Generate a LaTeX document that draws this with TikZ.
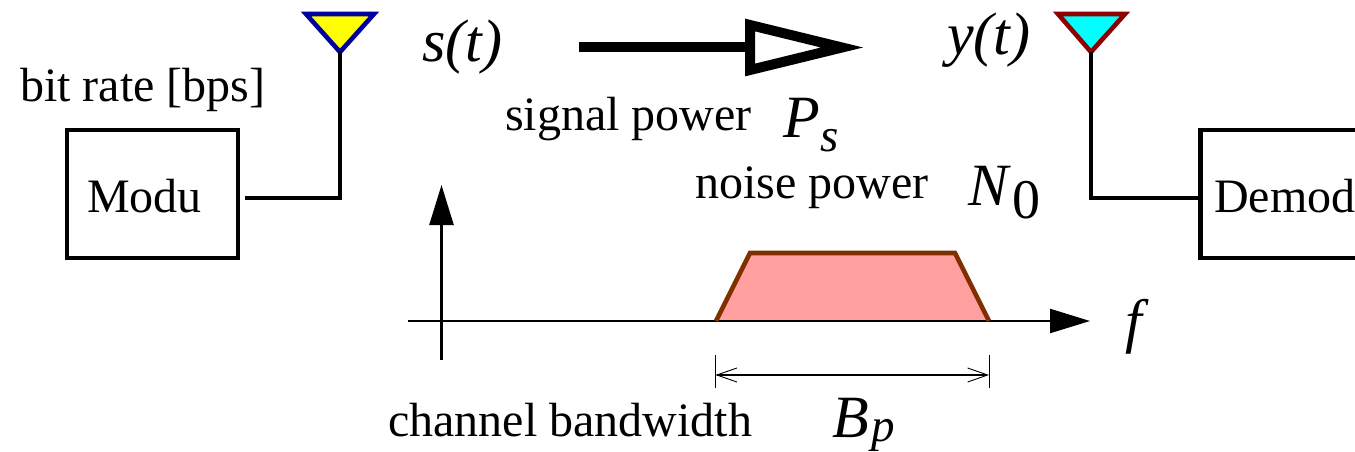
\documentclass[tikz,border=0pt]{standalone}
\usepackage{fontspec}
\setmainfont{Liberation Serif}
\usetikzlibrary{arrows.meta}
\definecolor{trapfill}{HTML}{FF9F9F}
\definecolor{trapline}{HTML}{803000}
\definecolor{antblue}{HTML}{00009F}
\definecolor{antred}{HTML}{8F0000}
\definecolor{antyellow}{HTML}{FFFF00}
\definecolor{antcyan}{HTML}{00FFFF}
\tikzset{
  x=1pt,y=-1pt,
  blockbox/.style={draw=black,line width=4.6pt,outer sep=0pt,minimum width=171pt,minimum height=128pt,inner sep=0pt,anchor=north west},
  wire/.style={draw=black,line width=4.6pt,line join=miter},
  label/.style={inner sep=0pt,anchor=base west,font=\fontsize{48}{48}\selectfont},
  maths/.style={inner sep=0pt,anchor=base west,font=\fontsize{60}{60}\selectfont\itshape},
  subs/.style={inner sep=0pt,anchor=base west,font=\fontsize{47}{47}\selectfont\itshape},
  axis/.style={draw=black,line width=2.4pt,-{Triangle[length=40pt,width=24pt]}},
  dim/.style={draw=black,line width=1pt},
  dimarrow/.style={draw=black,line width=1.1pt,{Straight Barb[length=20pt,width=14pt,line width=0.9pt]}-{Straight Barb[length=20pt,width=14pt,line width=0.9pt]}},
  bigarrow/.style={draw=black,line width=10pt},
  ant/.style={line width=4.6pt,line join=miter}
}
\begin{document}
\begin{tikzpicture}
\useasboundingbox (0,0) rectangle (1355,452);
\clip (0,0) rectangle (1355,452);
% blocks
\node[blockbox] (modu) at (67,130) {};
\node[blockbox,minimum width=200pt] (demod) at (1200.5,130) {};
\node[label] (modutxt) at (87,212) {Modu};
\node[label] (demodtxt) at (1214,212) {Demod};
\node[label] (bitrate) at (20,102) {bit rate [bps]};
% antennas
\coordinate (anta) at (340,52);
\coordinate (antb) at (1091,52);
\coordinate (wirea) at (245,198);
\filldraw[ant,draw=antblue,fill=antyellow] (306,14) -- (374,14) -- (anta) -- cycle;
\filldraw[ant,draw=antred,fill=antcyan] (1058,14) -- (1125,14) -- (antb) -- cycle;
\draw[wire] (wirea) -| (anta);
\draw[wire] (demod.west |- 0,198) -| (antb);
% big arrow
\coordinate (bigstart) at (579,47.5);
\coordinate (bigbase) at (750,47.5);
\coordinate (bigtip) at (842,47.5);
\draw[bigarrow] (bigstart) -- (bigbase);
\draw[bigarrow,fill=white,line join=miter] (bigbase |- 0,25) -- (bigtip) -- (bigbase |- 0,70) -- cycle;
% texts
\node[maths] (st) at (422,62) {s(t)};
\node[maths] (yt) at (947,55) {y(t)};
\node[label] (sigp) at (505,130) {signal power};
\node[maths] (ps) at (783,137) {P};
\node[subs] (pss) at (820,151) {s};
\node[label] (noisep) at (695,198) {noise power};
\node[maths] (n0) at (968,205) {N};
\node[inner sep=0pt,anchor=base west,font=\fontsize{56}{56}\selectfont] (n0s) at (1012,218) {0};
\node[maths] (ff) at (1125,341) {f};
\node[label] (chan) at (388,436) {channel bandwidth};
\node[maths] (bp) at (832,437) {B};
\node[subs] (bps) at (871,441) {p};
% spectrum
\coordinate (t1) at (716,321);
\coordinate (t2) at (750,253);
\coordinate (t3) at (955,253);
\coordinate (t4) at (989,321);
\fill[trapfill] (t1) -- (t2) -- (t3) -- (t4) -- cycle;
\coordinate (xa) at (408,321);
\coordinate (xb) at (1090,321);
\coordinate (ya) at (441.5,360);
\coordinate (yb) at (441.5,185);
\draw[axis] (xa) -- (xb);
\draw[axis] (ya) -- (yb);
\draw[draw=trapline,line width=4.6pt,line join=miter] (t1) -- (t2) -- (t3) -- (t4);
% dimension
\coordinate (d1a) at (715.5,355);
\coordinate (d1b) at (715.5,388);
\coordinate (d2a) at (989,355);
\coordinate (d2b) at (989,388);
\coordinate (m1) at (715.5,375);
\coordinate (m2) at (989,375);
\draw[dim] (d1a) -- (d1b);
\draw[dim] (d2a) -- (d2b);
\draw[dimarrow] (m1) -- (m2);
\end{tikzpicture}
\end{document}
